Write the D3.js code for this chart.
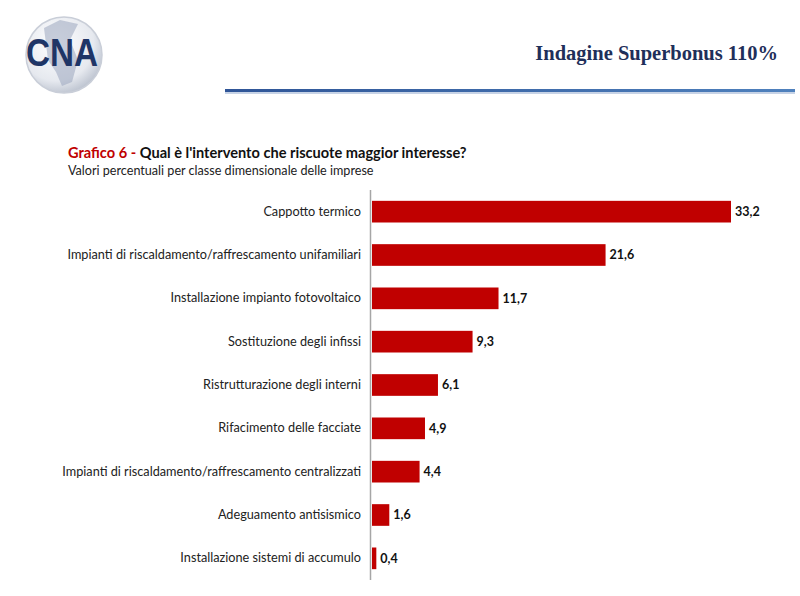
<!DOCTYPE html>
<html><head><meta charset="utf-8">
<script src="https://cdn.jsdelivr.net/npm/d3@7"></script>
<style>body{margin:0;background:#fff}svg{display:block}</style>
</head><body>
<script>
const categories = [
  "Cappotto termico",
  "Impianti di riscaldamento/raffrescamento unifamiliari",
  "Installazione impianto fotovoltaico",
  "Sostituzione degli infissi",
  "Ristrutturazione degli interni",
  "Rifacimento delle facciate",
  "Impianti di riscaldamento/raffrescamento centralizzati",
  "Adeguamento antisismico",
  "Installazione sistemi di accumulo"
];
const values = [33.2, 21.6, 11.7, 9.3, 6.1, 4.9, 4.4, 1.6, 0.4];
const valueLabels = ["33,2","21,6","11,7","9,3","6,1","4,9","4,4","1,6","0,4"];
const headerTitle = "Indagine Superbonus 110%";
const chartTitleRed = "Grafico 6 - ";
const chartTitle = "Qual è l'intervento che riscuote maggior interesse?";
const chartSubtitle = "Valori percentuali per classe dimensionale delle imprese";

const W = 800, H = 596;
const svg = d3.select("body").append("svg").attr("width", W).attr("height", H);
const defs = svg.append("defs");

// Logo
const lg = defs.append("radialGradient").attr("id","logoG").attr("cx","40%").attr("cy","35%").attr("r","70%");
lg.append("stop").attr("offset","0%").attr("stop-color","#ffffff");
lg.append("stop").attr("offset","70%").attr("stop-color","#e6e9ef");
lg.append("stop").attr("offset","100%").attr("stop-color","#b8bfcc");
svg.append("circle").attr("cx",64).attr("cy",55).attr("r",38).attr("fill","url(#logoG)")
  .attr("stroke","#c9ced8").attr("stroke-width",1.5);
svg.append("path").attr("d","M44,28 L60,20 L78,24 L70,40 L78,60 L72,82 L62,86 L56,72 L48,60 L46,44 Z")
  .attr("fill","#9aa6bd").attr("opacity",0.55);
svg.append("text").attr("x",62).attr("y",66).attr("text-anchor","middle")
  .attr("font-family","Liberation Sans, Arial, sans-serif").attr("font-weight","bold")
  .attr("font-size",38).attr("fill","#1f3566").attr("textLength",72).attr("lengthAdjust","spacingAndGlyphs")
  .text("CNA");

// Header title
svg.append("text").attr("x",778).attr("y",60).attr("text-anchor","end")
  .attr("font-family","Liberation Serif, DejaVu Serif, serif").attr("font-weight","bold")
  .attr("font-size",20.5).attr("fill","#1f2f5a").text(headerTitle);

// Header line
const hl = defs.append("linearGradient").attr("id","lineG").attr("x1","0%").attr("x2","100%");
hl.append("stop").attr("offset","0%").attr("stop-color","#2f5597");
hl.append("stop").attr("offset","100%").attr("stop-color","#4f81bd");
svg.append("rect").attr("x",225).attr("y",89).attr("width",570).attr("height",3).attr("fill","url(#lineG)");
svg.append("rect").attr("x",225).attr("y",92).attr("width",570).attr("height",2).attr("fill","#c7d3e6");

// Chart title
const t = svg.append("text").attr("x",68).attr("y",158)
  .attr("font-family","Lato, Open Sans, sans-serif").attr("font-weight","bold").attr("font-size",14.6);
t.append("tspan").attr("fill","#c00000").text(chartTitleRed);
t.append("tspan").attr("fill","#111").text(chartTitle);
svg.append("text").attr("x",68).attr("y",175)
  .attr("font-family","Lato, Open Sans, sans-serif").attr("font-size",12.6).attr("fill","#222").text(chartSubtitle);

// Chart
const x0 = 372;
const x = d3.scaleLinear().domain([0, 33.2]).range([x0, 731]);
const y = d3.scaleBand().domain(categories).range([190, 580]).paddingInner(0.5).paddingOuter(0.25);

const g = svg.append("g");
g.selectAll("rect.bar").data(values).join("rect").attr("class","bar")
  .attr("x", x(0)).attr("y",(d,i)=>y(categories[i]))
  .attr("width", d=>x(d)-x(0)).attr("height", y.bandwidth())
  .attr("fill","#c00000");

const axis = d3.axisLeft(y).tickSize(3).tickPadding(8);
const ax = svg.append("g").attr("transform",`translate(${x0},0)`).call(axis);
ax.select(".domain").attr("stroke","#a6a6a6").attr("stroke-width",1.5).attr("d","M-1.5,190V580");
ax.selectAll(".tick line").attr("stroke","#a6a6a6").attr("x1",0).attr("x2",0);
ax.selectAll(".tick text").attr("font-family","Lato, Open Sans, sans-serif").attr("font-size",12.7)
  .attr("fill","#222");

g.selectAll("text.val").data(values).join("text").attr("class","val")
  .attr("x", d=>x(d)+4).attr("y",(d,i)=>y(categories[i])+y.bandwidth()/2)
  .attr("dy","0.35em").attr("font-family","Lato, Open Sans, sans-serif").attr("font-weight","bold")
  .attr("font-size",12.5).attr("fill","#111").text((d,i)=>valueLabels[i]);
</script>
</body></html>
